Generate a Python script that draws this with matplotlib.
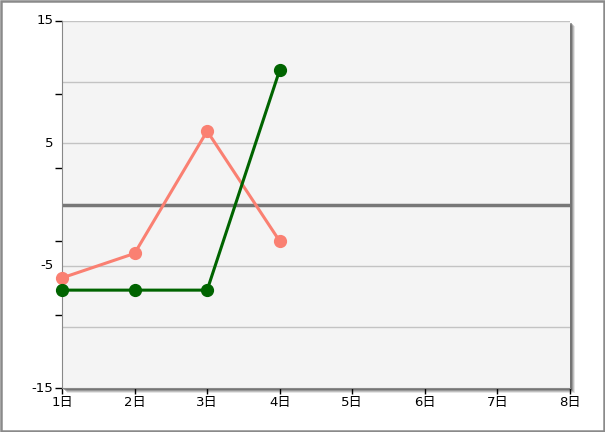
import matplotlib.pyplot as plt
from matplotlib.patches import Rectangle

# data
days = [1, 2, 3, 4]
salmon_vals = [-6, -4, 6, -3]
green_vals = [-7, -7, -7, 11]
xtick_labels = ["1日", "2日", "3日", "4日", "5日", "6日", "7日", "8日"]
ylabel_vals = [15, 5, -5, -15]
ytick_marks = [-15, -9, -3, 3, 9, 15]
grid_vals = [-10, -5, 5, 10, 15]

plt.rcParams['font.family'] = ['DejaVu Sans', 'Noto Sans CJK JP']

W, H = 605, 432
fig = plt.figure(figsize=(W / 100, H / 100), dpi=100)
fig.patch.set_facecolor('white')

# plot area in pixels
x0, x1, y0, y1 = 62, 570, 21, 388
ax = fig.add_axes([x0 / W, 1 - y1 / H, (x1 - x0) / W, (y1 - y0) / H])

# drop shadow behind the plot area (right and bottom)
for i, a in enumerate([0.15, 0.25, 0.35, 0.55]):
    off = 5 - i
    fig.patches.append(Rectangle(((x0 + off) / W, 1 - (y1 + off) / H),
                                 (x1 - x0) / W, (y1 - y0) / H,
                                 transform=fig.transFigure, facecolor='#555555',
                                 edgecolor='none', alpha=a, zorder=0))

# outer frame of the figure
fig.patches.append(Rectangle((1 / W, 1 / H), 1 - 2 / W, 1 - 2 / H,
                             transform=fig.transFigure, facecolor='none',
                             edgecolor='#8a8a8a', linewidth=1.8, zorder=5))

ax.set_facecolor('#f4f4f4')
ax.set_zorder(1)
ax.set_xlim(1, 8)
ax.set_ylim(-15, 15)

for g in grid_vals:
    ax.axhline(g, color='#c3c3c3', linewidth=1, zorder=1)
ax.axhline(0, color='#777777', linewidth=2.5, zorder=2)

ax.plot(days, salmon_vals, color='#fa8072', linewidth=2.2, marker='o',
        markersize=8.5, zorder=3, clip_on=False)
ax.plot(days, green_vals, color='#006400', linewidth=2.2, marker='o',
        markersize=8.5, zorder=4, clip_on=False)

# ticks: marks every 6, labels every 10
ax.set_yticks(ytick_marks)
ax.set_yticklabels([])
ax.tick_params(axis='y', length=5, width=1, color='black', direction='out')
for v in ylabel_vals:
    ax.text(-0.017, v, str(v), transform=ax.get_yaxis_transform(),
            ha='right', va='center', fontsize=9.5)

ax.set_xticks(range(1, 9))
ax.set_xticklabels(xtick_labels, fontsize=9.5)
ax.tick_params(axis='x', length=4, width=1, color='black', pad=2)

for side in ['top', 'right']:
    ax.spines[side].set_visible(False)
ax.spines['left'].set_color('#888888')
ax.spines['bottom'].set_color('#888888')

fig.savefig('out.png', dpi=100)
